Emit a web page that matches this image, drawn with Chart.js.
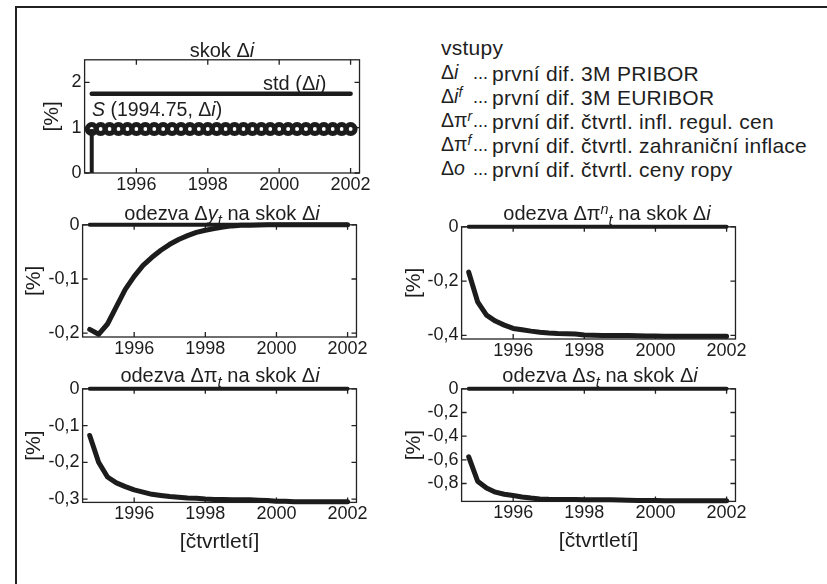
<!DOCTYPE html>
<html><head><meta charset="utf-8">
<script src="https://cdn.jsdelivr.net/npm/chart.js@4.4.1/dist/chart.umd.min.js"></script>
<style>
html,body{margin:0;padding:0;background:#fff;}
body{width:827px;height:584px;position:relative;overflow:hidden;font-family:"Liberation Sans",Arial,sans-serif;color:#1e1e1e;}
#frame{position:absolute;left:15px;top:6px;width:900px;height:700px;border-left:2px solid #222;border-top:2px solid #222;}
canvas{position:absolute;}
.t{position:absolute;white-space:nowrap;transform:translate(-50%,-50%);line-height:1;font-size:20px;z-index:5;}
.l{position:absolute;white-space:nowrap;transform:translateY(-50%);line-height:1;font-size:21px;letter-spacing:.25px;z-index:5;}
.s{position:absolute;white-space:nowrap;transform:translateY(-50%);line-height:1;font-size:19.5px;z-index:5;}
.d{position:absolute;white-space:nowrap;transform:translateY(-50%);line-height:1;font-size:18px;z-index:5;}
.a{position:absolute;white-space:nowrap;transform:translateY(-50%);line-height:1;font-size:20px;z-index:5;}
.sb{font-size:.75em;position:relative;top:.3em;}
.sp{font-size:.72em;position:relative;top:-.45em;}
</style></head>
<body>
<div id="frame"></div>

<canvas id="c0"></canvas>
<canvas id="c1"></canvas>
<canvas id="c2"></canvas>
<canvas id="c3"></canvas>
<canvas id="c4"></canvas>

<div class="t" style="left:222px;top:50px">skok Δ<i>i</i></div>
<div class="t" style="left:222px;top:213px">odezva Δ<i>y<span class="sb">t</span></i> na skok Δ<i>i</i></div>
<div class="t" style="left:607px;top:213px">odezva Δπ<span class="sp"><i>n</i></span><span class="sb"><i>t</i></span> na skok Δ<i>i</i></div>
<div class="t" style="left:220px;top:375px">odezva Δπ<span class="sb"><i>t</i></span> na skok Δ<i>i</i></div>
<div class="t" style="left:600px;top:375px">odezva Δ<i>s<span class="sb">t</span></i> na skok Δ<i>i</i></div>

<div class="a" style="left:92px;top:110px;font-size:19.5px"><i>S</i>&nbsp;(1994.75, Δ<i>i</i>)</div>
<div class="a" style="left:263px;top:83px">std (Δ<i>i</i>)</div>

<div class="l" style="left:441px;top:47px">vstupy</div>
<div class="s" style="left:441px;top:73px">Δ<i>i</i></div>
<div class="s" style="left:441px;top:97px">Δ<i>i<span class="sp">f</span></i></div>
<div class="s" style="left:441px;top:121px">Δπ<span class="sp"><i>r</i></span></div>
<div class="s" style="left:441px;top:145px">Δπ<span class="sp"><i>f</i></span></div>
<div class="s" style="left:441px;top:169px">Δ<i>o</i></div>
<div class="d" style="left:473px;top:73px">...</div>
<div class="d" style="left:473px;top:97px">...</div>
<div class="d" style="left:473px;top:121px">...</div>
<div class="d" style="left:473px;top:145px">...</div>
<div class="d" style="left:473px;top:169px">...</div>
<div class="l" style="left:492px;top:73px">první dif. 3M PRIBOR</div>
<div class="l" style="left:492px;top:97px">první dif. 3M EURIBOR</div>
<div class="l" style="left:492px;top:121px">první dif. čtvrtl. infl. regul. cen</div>
<div class="l" style="left:492px;top:145px">první dif. čtvrtl. zahraniční inflace</div>
<div class="l" style="left:492px;top:169px">první dif. čtvrtl. ceny ropy</div>

<script>
// ---------- data ----------
const quarters = [1994.75,1995.00,1995.25,1995.50,1995.75,1996.00,1996.25,1996.50,1996.75,1997.00,
                  1997.25,1997.50,1997.75,1998.00,1998.25,1998.50,1998.75,1999.00,1999.25,1999.50,
                  1999.75,2000.00,2000.25,2000.50,2000.75,2001.00,2001.25,2001.50,2001.75,2002.00];
const shockValues = [0.97,0.97,0.97,0.97,0.97,0.97,0.97,0.97,0.97,0.97,
                     0.97,0.97,0.97,0.97,0.97,0.97,0.97,0.97,0.97,0.97,
                     0.97,0.97,0.97,0.97,0.97,0.97,0.97,0.97,0.97,0.97];
const stdX = [1994.75, 2002.00];
const stdY = [1.75, 1.75];
const stemX = [1994.75, 1994.75];
const stemY = [0, 0.97];
const zeroX = [1994.75, 2002.00];
const zeroY = [0, 0];
const respY = [-0.193,-0.202,-0.183,-0.151,-0.119,-0.095,-0.075,-0.060,-0.047,-0.036,
               -0.027,-0.020,-0.014,-0.010,-0.007,-0.004,-0.002,-0.001,-0.001,-0.0005,
               0,0,0,0,0,0,0,0,0,0];
const respPiN = [-0.167,-0.276,-0.325,-0.347,-0.362,-0.374,-0.379,-0.384,-0.388,-0.391,
                 -0.393,-0.394,-0.395,-0.398,-0.399,-0.400,-0.400,-0.400,-0.400,-0.401,
                 -0.402,-0.402,-0.403,-0.403,-0.403,-0.403,-0.403,-0.403,-0.403,-0.403];
const respPi = [-0.127,-0.200,-0.240,-0.256,-0.266,-0.275,-0.281,-0.287,-0.290,-0.293,
                -0.295,-0.297,-0.298,-0.300,-0.301,-0.301,-0.302,-0.302,-0.302,-0.303,
                -0.304,-0.306,-0.306,-0.307,-0.307,-0.307,-0.307,-0.307,-0.307,-0.307];
const respS = [-0.575,-0.780,-0.838,-0.873,-0.891,-0.902,-0.914,-0.923,-0.930,-0.933,
               -0.934,-0.935,-0.936,-0.937,-0.937,-0.937,-0.938,-0.940,-0.942,-0.943,
               -0.944,-0.944,-0.945,-0.945,-0.945,-0.945,-0.945,-0.945,-0.945,-0.945];
const xTicks = [1996, 1998, 2000, 2002];
const yTicksShock = [0, 1, 2];
const yTicksY = [-0.2, -0.1, 0];
const yTicksPiN = [-0.4, -0.2, 0];
const yTicksPi = [-0.3, -0.2, -0.1, 0];
const yTicksS = [-0.8, -0.6, -0.4, -0.2, 0];
const yLabel = '[%]';
const xLabel = '[čtvrtletí]';

// ---------- helpers ----------
const INK = '#1c1c1c';
const FONT = '"Liberation Sans", Arial, sans-serif';
const TICK_SIZE = 18, TITLE_SIZE = 21;
const pts = (xs, ys) => xs.map((x, i) => ({x: x, y: ys[i]}));
const fmt = v => (Math.abs(v) < 1e-9 ? '0' : String(Math.round(v * 10) / 10).replace('.', ','));

const boxPlugin = {
  id: 'boxTicks',
  beforeDatasetsDraw(chart) {
    const {ctx, chartArea: a, scales: {x, y}} = chart;
    ctx.save();
    ctx.strokeStyle = '#222';
    ctx.lineWidth = 1.3;
    ctx.strokeRect(a.left, a.top, a.right - a.left, a.bottom - a.top);
    ctx.beginPath();
    const L = 5;
    x.ticks.forEach(t => {
      const p = x.getPixelForValue(t.value);
      ctx.moveTo(p, a.bottom); ctx.lineTo(p, a.bottom - L);
      ctx.moveTo(p, a.top); ctx.lineTo(p, a.top + L);
    });
    y.ticks.forEach(t => {
      const p = y.getPixelForValue(t.value);
      ctx.moveTo(a.left, p); ctx.lineTo(a.left + L, p);
      ctx.moveTo(a.right, p); ctx.lineTo(a.right - L, p);
    });
    ctx.stroke();
    ctx.restore();
  }
};

function lineDs(data, w, cap) {
  return {data: data, borderColor: INK, borderWidth: w, pointRadius: 0, tension: 0,
          clip: false, fill: false, borderCapStyle: cap || 'round', borderJoinStyle: 'round'};
}

function panel(id, box, datasets, yMin, yMax, yTickVals, yTitleX, xTitleY) {
  const TPAD = 12, RPAD = 12;
  const lh = TITLE_SIZE * 1.2;
  const LPAD = box.left - yTitleX + lh / 2;
  const BPAD = xTitleY ? (xTitleY - (box.top + box.h)) + lh / 2 : 32;
  const cv = document.getElementById(id);
  const W = Math.round(box.w + LPAD + RPAD), H = Math.round(box.h + TPAD + BPAD);
  cv.style.left = (box.left - LPAD) + 'px';
  cv.style.top = (box.top - TPAD) + 'px';
  cv.width = W; cv.height = H;
  cv.style.width = W + 'px'; cv.style.height = H + 'px';
  new Chart(cv, {
    type: 'line',
    data: {datasets: datasets},
    plugins: [boxPlugin],
    options: {
      responsive: false, animation: false, devicePixelRatio: 1,
      layout: {padding: {left: 0, top: TPAD, right: RPAD, bottom: 0}, autoPadding: false},
      plugins: {legend: {display: false}, tooltip: {enabled: false}, title: {display: false}},
      scales: {
        x: {
          type: 'linear', min: 1994.55, max: 2002.25,
          grid: {display: false, drawTicks: false}, border: {display: false},
          afterBuildTicks: s => { s.ticks = xTicks.map(v => ({value: v})); },
          afterFit: s => { s.height = BPAD; },
          ticks: {color: INK, font: {family: FONT, size: TICK_SIZE}, padding: 1, maxRotation: 0, autoSkip: false,
                  callback: v => String(v)},
          title: {display: !!xTitleY, text: xLabel, color: INK, font: {family: FONT, size: TITLE_SIZE}, padding: 0}
        },
        y: {
          type: 'linear', min: yMin, max: yMax,
          grid: {display: false, drawTicks: false}, border: {display: false},
          afterBuildTicks: s => { s.ticks = yTickVals.map(v => ({value: v})); },
          afterFit: s => { s.width = LPAD; },
          ticks: {color: INK, font: {family: FONT, size: TICK_SIZE}, padding: 3, autoSkip: false,
                  callback: v => fmt(v)},
          title: {display: true, text: yLabel, color: INK, font: {family: FONT, size: TITLE_SIZE}, padding: 0}
        }
      }
    }
  });
}

// top panel: shock
panel('c0', {left: 85, top: 58, w: 275, h: 115}, [
  lineDs(pts(stdX, stdY), 4.5, 'round'),
  lineDs(pts(stemX, stemY), 4, 'butt'),
  {data: pts(quarters, shockValues), showLine: false, pointRadius: 4.5, pointBorderWidth: 5,
   pointBackgroundColor: 'rgba(0,0,0,0)', pointBorderColor: INK, clip: false}
], 0, 2.5, yTicksShock, 53, null);

panel('c1', {left: 83, top: 223, w: 274, h: 114}, [
  lineDs(pts(zeroX, zeroY), 4),
  lineDs(pts(quarters, respY), 5)
], -0.207, 0, yTicksY, 35, null);

panel('c2', {left: 462, top: 225, w: 274, h: 114}, [
  lineDs(pts(zeroX, zeroY), 4),
  lineDs(pts(quarters, respPiN), 5)
], -0.413, 0, yTicksPiN, 415, null);

panel('c3', {left: 83, top: 387, w: 274, h: 115}, [
  lineDs(pts(zeroX, zeroY), 4),
  lineDs(pts(quarters, respPi), 5)
], -0.309, 0, yTicksPi, 35, 542);

panel('c4', {left: 462, top: 387, w: 274, h: 114}, [
  lineDs(pts(zeroX, zeroY), 4),
  lineDs(pts(quarters, respS), 5)
], -0.951, 0, yTicksS, 415, 541);
</script>
</body></html>
